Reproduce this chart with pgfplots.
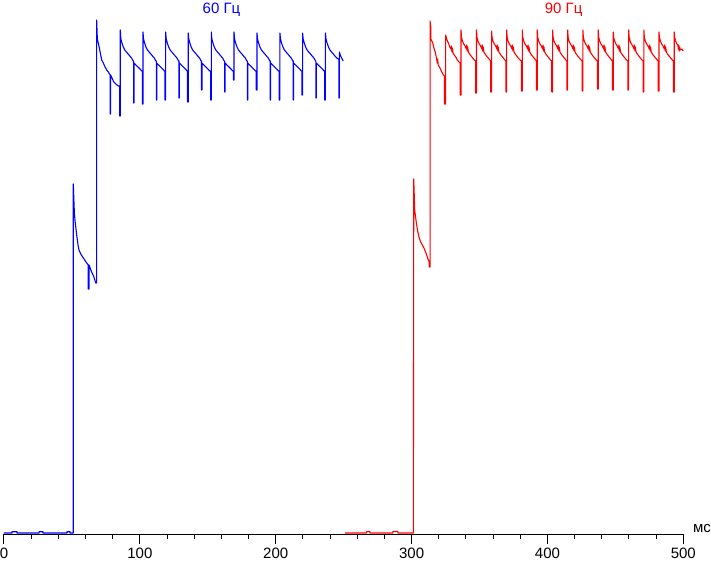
\documentclass[border=0pt]{standalone}
\usepackage{fontspec}
\setmainfont{Liberation Sans}
\usepackage{pgfplots}
\pgfplotsset{compat=1.18}
\begin{document}
\begin{tikzpicture}
\useasboundingbox (-4pt,-28pt) rectangle (707pt,534pt);
\begin{axis}[
  scale only axis, width=679.3pt, height=534pt,
  xmin=0, xmax=500, ymin=-1, ymax=533,
  axis x line=bottom, axis y line=none,
  x axis line style={-, black, line width=1pt},
  xtick={0,100,200,300,400,500},
  minor x tick num=4,
  tick align=outside,
  major tick length=10pt, minor tick length=5pt,
  every tick/.style={black, line width=1pt},
  xticklabel style={font=\fontsize{15pt}{17pt}\selectfont, text=black},
  /pgf/number format/assume math mode=true,
  clip=false,
]
% 60 Hz (blue)
\addplot[blue, line width=1.1pt, line join=round, mark=none] coordinates {
(0,0)(5.9,0)(5.9,1.3)(9.6,1.3)(9.6,0)(25.8,0)(25.8,1.3)(28.7,1.3)(28.7,0)(46.4,0)(46.4,1.3)(48.6,1.3)(48.6,0)(51.0,0)
(51.0,349)(51.8,320)(52.3,312)(53.5,298)(54.5,288)(55.2,283)(56.5,279)(58.4,275)(60.4,271)(62.0,268)(62.0,244)(62.6,244)(62.6,268)(64.5,261)(66.2,256)(67.5,250)(68.2,250)
(68.2,513)(68.7,494)(69.4,490)(70.2,485)(70.9,480)(71.9,473)(73.1,470)(74.4,466)(75.6,463)(76.8,461)(78.1,458)(78.1,419)(78.5,419)(78.5,458)(79.5,455)(80.8,451)(82.3,449)(84.1,447)(85.1,447)(85.1,417)(85.6,417)
(85.6,503)(86.0,494)(86.8,490)(87.8,486)(88.9,483)(90.1,481)(91.4,479)(92.6,477)(93.9,475)(95.1,472)(95.4,472)(95.4,430)(95.7,430)(95.7,470)(97.1,468)(98.6,466)(100.1,464)(101.4,462)(101.8,462)(101.8,429)(102.3,429)
(102.3,501)(102.7,494)(103.5,490)(104.5,486)(105.6,483)(106.8,481)(108.1,479)(109.3,477)(110.6,475)(111.8,472)(112.1,472)(112.1,433)(112.4,433)(112.4,470)(113.8,468)(115.3,466)(116.8,464)(118.1,462)(118.5,462)(118.5,433)(119.0,433)
(119.0,501)(119.4,494)(120.2,490)(121.2,486)(122.3,483)(123.5,481)(124.8,479)(126.0,477)(127.3,475)(128.5,472)(128.8,472)(128.8,435)(129.1,435)(129.1,470)(130.5,468)(132.0,466)(133.5,464)(134.8,462)(135.1,462)(135.1,431)(135.6,431)
(135.6,500)(136.0,494)(136.8,490)(137.8,486)(138.9,483)(140.1,481)(141.4,479)(142.6,477)(143.9,475)(145.1,472)(145.4,472)(145.4,443)(145.7,443)(145.7,470)(147.1,468)(148.6,466)(150.1,464)(151.4,462)(152.1,462)(152.1,433)(152.6,433)
(152.6,501)(153.0,494)(153.8,490)(154.8,486)(155.9,483)(157.1,481)(158.4,479)(159.6,477)(160.9,475)(162.1,472)(162.4,472)(162.4,441)(162.7,441)(162.7,470)(164.1,468)(165.6,466)(167.1,464)(168.4,462)(168.8,462)(168.8,453)(169.3,453)
(169.3,501)(169.7,494)(170.5,490)(171.5,486)(172.6,483)(173.8,481)(175.1,479)(176.3,477)(177.6,475)(178.8,472)(179.1,472)(179.1,433)(179.4,433)(179.4,470)(180.8,468)(182.3,466)(183.8,464)(185.1,462)(185.7,462)(185.7,443)(186.2,443)
(186.2,500)(186.6,494)(187.4,490)(188.4,486)(189.5,483)(190.7,481)(192.0,479)(193.2,477)(194.5,475)(195.7,472)(196.0,472)(196.0,433)(196.3,433)(196.3,470)(197.7,468)(199.2,466)(200.7,464)(202.0,462)(202.6,462)(202.6,433)(203.1,433)
(203.1,500)(203.5,494)(204.3,490)(205.3,486)(206.4,483)(207.6,481)(208.9,479)(210.1,477)(211.4,475)(212.6,472)(212.9,472)(212.9,433)(213.2,433)(213.2,470)(214.6,468)(216.1,466)(217.6,464)(218.9,462)(219.3,462)(219.3,438)(219.8,438)
(219.8,500)(220.2,494)(221.0,490)(222.0,486)(223.1,483)(224.3,481)(225.6,479)(226.8,477)(228.1,475)(229.3,472)(229.6,472)(229.6,435)(229.9,435)(229.9,470)(231.3,468)(232.8,466)(234.3,464)(235.6,462)(236.1,462)(236.1,433)(236.6,433)
(236.6,500)(237.0,494)(237.8,490)(238.8,486)(239.9,483)(241.1,481)(242.4,479)(243.6,477)(244.9,475)(246.1,474)(246.6,474)(246.6,435)(246.9,435)(246.9,481)(247.5,478)(248.5,475)(249.7,472)
};
% 90 Hz (red)
\addplot[red, line width=1.1pt, line join=round, mark=none] coordinates {
(251.0,0)(266.9,0)(266.9,1.5)(269.3,1.5)(269.3,0)(286.2,0)(286.2,1.5)(289.9,1.5)(289.9,0)(301.3,0)
(301.6,354)(302.3,323)(303.5,310)(304.5,302)(305.4,296)(306.7,291)(307.9,288)(309.1,285)(310.6,280)(311.8,275)(313.0,271)(313.0,266)(313.6,266)
(313.6,512)(314.2,505)(314.2,494)(315.6,490)(316.4,485)(317.6,480)(318.3,475)(318.9,470)(319.2,474)(319.6,468)(320.9,465)(322.2,461)(323.4,458)(324.2,457)(324.2,429)(325.1,429)
(325.1,498)(325.4,496)(326.1,493)(327.1,490)(328.1,486)(329.0,484)(329.3,487)(329.7,481)(330.0,485)(330.5,480)(331.4,478)(332.5,476)(333.7,473)(334.9,471)(335.8,470)(335.8,438)(336.4,438)
(336.4,503)(336.7,496)(337.4,492)(338.4,489)(339.4,487)(340.3,484)(340.6,488)(341.0,482)(341.3,486)(341.8,481)(342.7,479)(343.8,477)(345.0,475)(346.2,473)(347.2,472)(347.2,440)(347.8,440)
(347.8,503)(348.1,496)(348.8,492)(349.8,489)(350.8,487)(351.7,484)(352.0,488)(352.4,482)(352.7,486)(353.2,481)(354.1,479)(355.2,477)(356.4,475)(357.6,473)(358.3,472)(358.3,441)(358.9,441)
(358.9,502)(359.2,496)(359.9,492)(360.9,489)(361.9,487)(362.8,484)(363.1,488)(363.5,482)(363.8,486)(364.3,481)(365.2,479)(366.3,477)(367.5,475)(368.7,473)(369.4,472)(369.4,441)(370.0,441)
(370.0,503)(370.3,496)(371.0,492)(372.0,489)(373.0,487)(373.9,484)(374.2,488)(374.6,482)(374.9,486)(375.4,481)(376.3,479)(377.4,477)(378.6,475)(379.8,473)(380.9,472)(380.9,442)(381.5,442)
(381.5,503)(381.8,496)(382.5,492)(383.5,489)(384.5,487)(385.4,484)(385.7,488)(386.1,482)(386.4,486)(386.9,481)(387.8,479)(388.9,477)(390.1,475)(391.3,473)(391.9,472)(391.9,443)(392.5,443)
(392.5,503)(392.8,496)(393.5,492)(394.5,489)(395.5,487)(396.4,484)(396.7,488)(397.1,482)(397.4,486)(397.9,481)(398.8,479)(399.9,477)(401.1,475)(402.3,473)(403.2,472)(403.2,441)(403.8,441)
(403.8,503)(404.1,496)(404.8,492)(405.8,489)(406.8,487)(407.7,484)(408.0,488)(408.4,482)(408.7,486)(409.2,481)(410.1,479)(411.2,477)(412.4,475)(413.6,473)(414.3,472)(414.3,443)(414.9,443)
(414.9,503)(415.2,496)(415.9,492)(416.9,489)(417.9,487)(418.8,484)(419.1,488)(419.5,482)(419.8,486)(420.3,481)(421.2,479)(422.3,477)(423.5,475)(424.7,473)(425.5,472)(425.5,442)(426.1,442)
(426.1,503)(426.4,496)(427.1,492)(428.1,489)(429.1,487)(430.0,484)(430.3,488)(430.7,482)(431.0,486)(431.5,481)(432.4,479)(433.5,477)(434.7,475)(435.9,473)(436.8,472)(436.8,444)(437.4,444)
(437.4,503)(437.7,496)(438.4,492)(439.4,489)(440.4,487)(441.3,484)(441.6,488)(442.0,482)(442.3,486)(442.8,481)(443.7,479)(444.8,477)(446.0,475)(447.2,473)(447.8,472)(447.8,443)(448.4,443)
(448.4,501)(448.7,496)(449.4,492)(450.4,489)(451.4,487)(452.3,484)(452.6,488)(453.0,482)(453.3,486)(453.8,481)(454.7,479)(455.8,477)(457.0,475)(458.2,473)(459.2,472)(459.2,443)(459.8,443)
(459.8,503)(460.1,496)(460.8,492)(461.8,489)(462.8,487)(463.7,484)(464.0,488)(464.4,482)(464.7,486)(465.2,481)(466.1,479)(467.2,477)(468.4,475)(469.6,473)(470.4,472)(470.4,441)(471.0,441)
(471.0,503)(471.3,496)(472.0,492)(473.0,489)(474.0,487)(474.9,484)(475.2,488)(475.6,482)(475.9,486)(476.4,481)(477.3,479)(478.4,477)(479.6,475)(480.8,473)(481.5,472)(481.5,442)(482.1,442)
(482.1,501)(482.4,496)(483.1,492)(484.1,489)(485.1,487)(486.0,484)(486.3,488)(486.7,482)(487.0,486)(487.5,481)(488.4,479)(489.5,477)(490.7,475)(491.9,473)(492.7,472)(492.7,441)(493.3,441)
(493.3,501)(493.6,496)(494.3,492)(495.3,489)(496.0,488)(496.3,484)(496.6,488)(497.0,482)(497.3,486)(497.8,483)(498.8,484)(500.0,482)
};
\node[anchor=base, text=blue, font=\fontsize{15pt}{17pt}\selectfont, inner sep=0pt] at (axis cs:160.1,519.7) {60 Гц};
\node[anchor=base, text=red, font=\fontsize{15pt}{17pt}\selectfont, inner sep=0pt] at (axis cs:411.9,519.7) {90 Гц};
\node[anchor=base west, text=black, font=\fontsize{15pt}{17pt}\selectfont, inner sep=0pt] at (axis cs:507.1,1) {мс};
\end{axis}
\end{tikzpicture}
\end{document}
